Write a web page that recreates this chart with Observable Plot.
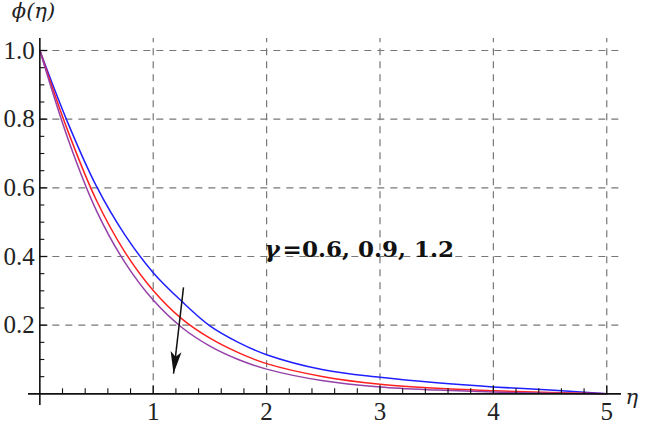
<!DOCTYPE html>
<html>
<head>
<meta charset="utf-8">
<script src="https://cdn.jsdelivr.net/npm/d3@7"></script>
<script src="https://cdn.jsdelivr.net/npm/@observablehq/plot@0.6"></script>
<style>
  html, body { margin: 0; padding: 0; background: #fff; }
  #chart svg { display: block; }
</style>
</head>
<body>
<div id="chart"></div>
<script>
// ---- data ----
const eta = [0, 0.25, 0.5, 0.75, 1.0, 1.25, 1.5, 1.75, 2.0, 2.5, 3.0, 3.5, 4.0, 4.5, 5.0];
const phiGamma06 = [1.0, 0.787, 0.604, 0.463, 0.353, 0.27, 0.198, 0.150, 0.114, 0.070, 0.048, 0.032, 0.020, 0.011, 0.0];
const phiGamma09 = [1.0, 0.763, 0.563, 0.413, 0.301, 0.219, 0.162, 0.120, 0.088, 0.050, 0.028, 0.016, 0.009, 0.004, 0.0];
const phiGamma12 = [1.0, 0.741, 0.533, 0.383, 0.273, 0.194, 0.139, 0.100, 0.072, 0.038, 0.020, 0.011, 0.005, 0.002, 0.0];
const seriesNames = ["0.6", "0.9", "1.2"];
const seriesColors = ["#1f1fff", "#ff2020", "#9440a8"];

const xTicks = [1, 2, 3, 4, 5];
const xTickLabels = ["1", "2", "3", "4", "5"];
const yTicks = [0.2, 0.4, 0.6, 0.8, 1.0];
const yTickLabels = ["0.2", "0.4", "0.6", "0.8", "1.0"];

const xDomain = [-0.1, 5.13];
const yDomain = [-0.034, 1.035];

const annotationText = ["=0.6, 0.9, 1.2"];
const annotationPos = [{x: 2, y: 0.42}];
const arrowPos = [{x1: 1.267, y1: 0.31, x2: 1.179, y2: 0.059}];

// ---- build tables ----
const series = [phiGamma06, phiGamma09, phiGamma12];
const table = [];
series.forEach((vals, s) => {
  vals.forEach((v, i) => table.push({eta: eta[i], phi: v, gamma: seriesNames[s]}));
});
const xMinor = d3.range(0.2, 5.001, 0.2).filter(v => Math.abs(v - Math.round(v)) > 1e-6);
const yMinor = d3.range(0.05, 1.001, 0.05).filter(v => Math.abs(v * 5 - Math.round(v * 5)) > 1e-6);

const arrowHead = {
  draw(ctx) {
    ctx.moveTo(0, 0);
    ctx.lineTo(8.0, -21.2);
    ctx.lineTo(2.0, -16.9);
    ctx.lineTo(-2.9, -22.5);
    ctx.closePath();
  }
};

const gridStyle = {stroke: "#777", strokeWidth: 1.2, strokeDasharray: "7,6"};
const tickFont = "Liberation Serif, DejaVu Serif, serif";

const chart = Plot.plot({
  width: 646,
  height: 428,
  marginLeft: 28,
  marginRight: 25,
  marginTop: 38,
  marginBottom: 23,
  style: {background: "#fff", overflow: "visible"},
  x: {domain: xDomain, axis: null},
  y: {domain: yDomain, axis: null},
  color: {domain: seriesNames, range: seriesColors},
  marks: [
    // grid
    Plot.ruleX(xTicks, {x: d => d, y1: 0, y2: yDomain[1], ...gridStyle}),
    Plot.ruleY(yTicks, {y: d => d, x1: 0, x2: xDomain[1], ...gridStyle}),
    // curves
    Plot.line(table, {x: "eta", y: "phi", z: "gamma", stroke: "gamma", strokeWidth: 1.5, curve: "catmull-rom"}),
    // axes lines
    Plot.ruleY([0], {x1: xDomain[0], x2: xDomain[1], stroke: "#111", strokeWidth: 1.6}),
    Plot.ruleX([0], {y1: yDomain[0], y2: yDomain[1], stroke: "#111", strokeWidth: 1.6}),
    // ticks (inward)
    Plot.ruleX(xTicks, {x: d => d, y1: 0, y2: 0, insetTop: -8, stroke: "#111", strokeWidth: 1.3}),
    Plot.ruleX(xMinor, {x: d => d, y1: 0, y2: 0, insetTop: -5, stroke: "#111", strokeWidth: 1.1}),
    Plot.ruleY(yTicks, {y: d => d, x1: 0, x2: 0, insetRight: -8, stroke: "#111", strokeWidth: 1.3}),
    Plot.ruleY(yMinor, {y: d => d, x1: 0, x2: 0, insetRight: -5, stroke: "#111", strokeWidth: 1.1}),
    // tick labels
    Plot.text(xTicks, {x: d => d, y: 0, text: (d, i) => xTickLabels[i], dy: 18, lineAnchor: "middle", fontFamily: tickFont, fontSize: 25, fill: "#222"}),
    Plot.text(yTicks, {x: 0, y: d => d, text: (d, i) => yTickLabels[i], dx: -5, textAnchor: "end", lineAnchor: "middle", fontFamily: tickFont, fontSize: 25, fill: "#222"}),
    // axis labels
    Plot.text(["ϕ(η)"], {frameAnchor: "top-left", dx: 5, dy: -27, textAnchor: "middle", lineAnchor: "middle", fontFamily: "DejaVu Serif, serif", fontStyle: "italic", fontSize: 21, letterSpacing: "2px", fill: "#222"}),
    Plot.text(["η"], {frameAnchor: "right", y: 0, dx: 4, dy: 3, textAnchor: "start", lineAnchor: "middle", fontFamily: "DejaVu Serif, serif", fontStyle: "italic", fontSize: 21, fill: "#222"}),
    // annotation
    Plot.text(annotationPos, {x: "x", y: "y", text: () => "γ", dx: -2, textAnchor: "start", lineAnchor: "middle", fontFamily: "DejaVu Serif, serif", fontWeight: "bold", fontStyle: "italic", fontSize: 23, fill: "#111"}),
    Plot.text(annotationPos, {x: "x", y: "y", text: (d, i) => annotationText[i], dx: 16, textAnchor: "start", lineAnchor: "middle", fontFamily: "DejaVu Serif, serif", fontWeight: "bold", fontSize: 23, fill: "#111"}),
    // arrow
    Plot.link(arrowPos, {x1: "x1", y1: "y1", x2: "x2", y2: "y2", stroke: "#111", strokeWidth: 1.5}),
    Plot.dot(arrowPos, {x: "x2", y: "y2", symbol: arrowHead, fill: "#111", stroke: "none"})
  ]
});
document.getElementById("chart").appendChild(chart);
</script>
</body>
</html>
